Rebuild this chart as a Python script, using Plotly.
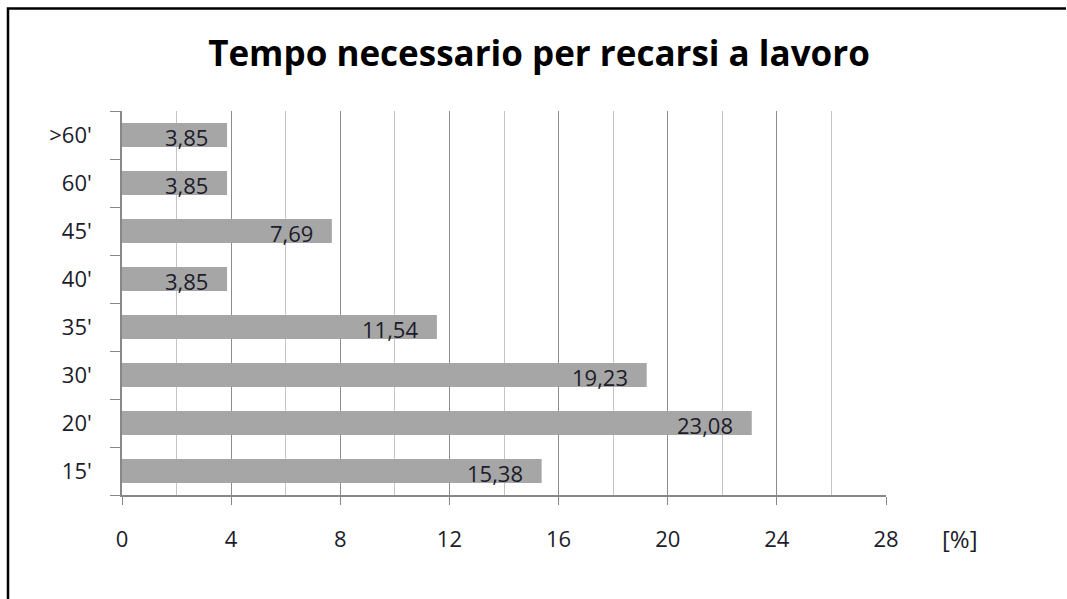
import plotly.graph_objects as go

categories = ["15'", "20'", "30'", "35'", "40'", "45'", "60'", ">60'"]
values = [15.38, 23.08, 19.23, 11.54, 3.85, 7.69, 3.85, 3.85]
labels = [f"{v:.2f}".replace(".", ",") for v in values]
x_ticks = [0, 4, 8, 12, 16, 20, 24, 28]

W, H = 1067, 599
L, R, T, B = 122, 181, 111, 104
pw, ph = W - L - R, H - T - B

def px_x(p):
    return (p - L) / pw

def px_y(p):
    return (H - B - p) / ph

FONT = "Open Sans"
TXT = "#1c1c2a"

fig = go.Figure()
fig.add_trace(go.Bar(
    y=categories, x=values, orientation="h",
    marker=dict(color="#a6a6a6", line=dict(width=0)),
    width=0.5, hoverinfo="skip",
))

for c, v, t in zip(categories, values, labels):
    fig.add_annotation(x=v, y=c, text=t, showarrow=False, xanchor="right",
                       xshift=-17, yshift=-2,
                       font=dict(family=FONT, size=22, color=TXT))

fig.add_annotation(xref="paper", yref="paper", x=px_x(960), y=px_y(538),
                   text="[%]", showarrow=False, xanchor="center", yanchor="middle",
                   font=dict(family=FONT, size=24, color=TXT))

# frame (left and top edges visible in the reference), as one open path
fx0, fy0 = px_x(8), px_y(8.5)
fig.add_shape(type="path", xref="paper", yref="paper",
              path=f"M {fx0} {px_y(599)} L {fx0} {fy0} L {px_x(1066)} {fy0}",
              line=dict(color="black", width=2.5))

fig.update_layout(
    width=W, height=H,
    margin=dict(l=L, r=R, t=T, b=B),
    paper_bgcolor="white", plot_bgcolor="white",
    showlegend=False,
    title=dict(text="<b>Tempo necessario per recarsi a lavoro</b>",
               xref="container", yref="container",
               x=539 / W, xanchor="center", y=1 - 54 / H, yanchor="middle",
               font=dict(family=FONT, size=35, color="black")),
    font=dict(family=FONT, size=22, color=TXT),
    bargap=0.5,
)
fig.update_xaxes(
    range=[0, 28], tickvals=x_ticks, ticks="outside", ticklen=8, tickcolor="#888888",
    showgrid=True, gridcolor="#8c8c8c", gridwidth=1,
    minor=dict(dtick=2, tick0=0, showgrid=True, gridcolor="#c4c4c4", gridwidth=1),
    showline=True, linecolor="#888888", linewidth=1.5,
    ticklabelstandoff=16, zeroline=False,
    tickfont=dict(family=FONT, size=22, color=TXT),
)
fig.update_yaxes(
    categoryorder="array", categoryarray=categories,
    ticks="outside", ticklen=10, tickcolor="#888888", tickson="boundaries",
    showline=True, linecolor="#888888", linewidth=1.5, showgrid=False,
    ticklabelstandoff=24,
    tickfont=dict(family=FONT, size=22, color=TXT),
)

fig.write_html(
    "out.html",
    config={"displayModeBar": False},
    post_script="document.documentElement.style.overflow='hidden';"
                "document.body.style.overflow='hidden';"
                "document.body.style.margin='0';",
)
